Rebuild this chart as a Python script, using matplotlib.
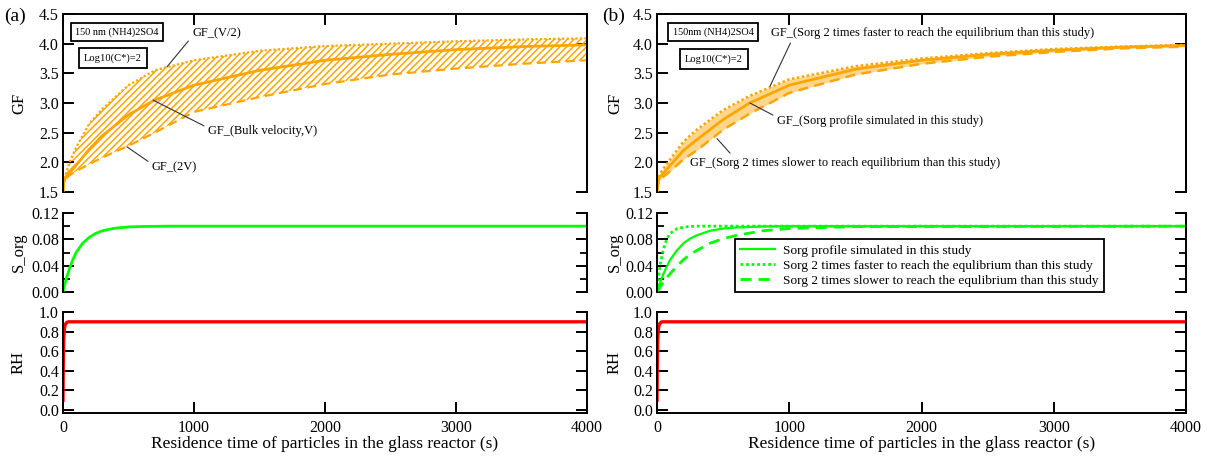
import matplotlib
matplotlib.use("Agg")
import matplotlib.pyplot as plt

plt.rcParams['font.family'] = ['Liberation Serif', 'DejaVu Serif']
plt.rcParams['hatch.linewidth'] = 1.1
plt.rcParams['mathtext.default'] = 'regular'

# ---------------- data ----------------
t_gf = [0, 5, 20, 50, 100, 200, 300, 500, 700, 1000, 1500, 2000, 2500, 3000, 3500, 4000]
# panel (a)
gf_a_V = [1.50, 1.65, 1.75, 1.82, 1.95, 2.22, 2.45, 2.80, 3.05, 3.30, 3.55, 3.72, 3.82, 3.90, 3.95, 3.98]
gf_a_V2 = [1.50, 1.70, 1.80, 2.00, 2.25, 2.65, 2.90, 3.30, 3.55, 3.72, 3.88, 3.96, 4.00, 4.04, 4.07, 4.09]
gf_a_2V = [1.50, 1.62, 1.72, 1.78, 1.85, 1.97, 2.08, 2.28, 2.50, 2.85, 3.10, 3.32, 3.48, 3.58, 3.66, 3.72]
# panel (b)
gf_b_mid = [1.50, 1.65, 1.75, 1.82, 1.95, 2.20, 2.38, 2.72, 3.00, 3.30, 3.57, 3.72, 3.82, 3.89, 3.94, 3.97]
gf_b_fast = [1.50, 1.70, 1.80, 1.90, 2.05, 2.35, 2.55, 2.88, 3.12, 3.40, 3.62, 3.75, 3.84, 3.91, 3.95, 3.98]
gf_b_slow = [1.50, 1.60, 1.70, 1.76, 1.85, 2.05, 2.20, 2.55, 2.82, 3.17, 3.48, 3.66, 3.78, 3.86, 3.92, 3.95]

t_s = [0, 10, 25, 50, 75, 100, 150, 200, 250, 300, 400, 500, 600, 800, 1000, 1500, 4000]
sorg_a = [0, 0.009, 0.020, 0.036, 0.049, 0.060, 0.074, 0.083, 0.089, 0.093, 0.097, 0.0988, 0.0995, 0.1, 0.1, 0.1, 0.1]
sorg_b = [0, 0.0064, 0.0154, 0.028, 0.039, 0.049, 0.063, 0.074, 0.081, 0.086, 0.093, 0.0964, 0.098, 0.0995, 0.1, 0.1, 0.1]
sorg_b_fast = [0, 0.020, 0.043, 0.066, 0.081, 0.089, 0.096, 0.0985, 0.0995, 0.1, 0.1, 0.1, 0.1, 0.1, 0.1, 0.1, 0.1]
sorg_b_slow = [0, 0.0033, 0.008, 0.0154, 0.022, 0.028, 0.039, 0.049, 0.057, 0.063, 0.074, 0.081, 0.086, 0.093, 0.0964, 0.0993, 0.1]

t_rh = [0, 2, 5, 10, 15, 20, 30, 40, 4000]
rh = [0.10, 0.45, 0.70, 0.82, 0.86, 0.88, 0.895, 0.90, 0.90]

x_ticks = [0, 1000, 2000, 3000, 4000]
gf_ticks = [1.5, 2.0, 2.5, 3.0, 3.5, 4.0, 4.5]
s_ticks = [0.00, 0.04, 0.08, 0.12]
s_minor = [0.02, 0.06, 0.10]
rh_ticks = [0.0, 0.2, 0.4, 0.6, 0.8, 1.0]

legend_labels = ["Sorg profile simulated in this study",
                 "Sorg 2 times faster to reach the equlibrium than this study",
                 "Sorg 2 times slower to reach the equlibrium than this study"]

ORANGE = '#FFA500'
GREEN = '#00FF00'
RED = '#FF0000'

W, H = 1209, 467
fig = plt.figure(figsize=(W / 100, H / 100), dpi=100)


def fx(px):
    return px / W


def fy(py):
    return 1 - py / H


def make_axes(x0, x1, label_right_px):
    ax_gf = fig.add_axes([fx(x0), fy(192), fx(x1 - x0), (192 - 14) / H])
    ax_s = fig.add_axes([fx(x0), fy(292), fx(x1 - x0), (292 - 213) / H])
    ax_rh = fig.add_axes([fx(x0), fy(413), fx(x1 - x0), (413 - 312) / H])
    for ax in (ax_gf, ax_s, ax_rh):
        ax.set_xlim(0, 4000)
        for sp in ax.spines.values():
            sp.set_linewidth(1.4)
        ax.tick_params(axis='both', direction='in', width=1.4, length=8,
                       labelsize=11.5, pad=3)
        ax.tick_params(axis='y', which='minor', direction='in', width=1.3, length=5)
        ax.set_xticks(x_ticks)
    # GF
    ax_gf.set_ylim(1.5, 4.5)
    ax_gf.set_yticks(gf_ticks)
    ax_gf.set_yticklabels([f"{v:.1f}" for v in gf_ticks])
    ax_gf.spines['bottom'].set_visible(False)
    ax_gf.tick_params(axis='x', top=True, bottom=False, labelbottom=False, labeltop=False)
    sec = ax_gf.secondary_yaxis('right')
    sec.set_yticks([1.5, 4.0, 4.5])
    sec.tick_params(direction='in', length=8, width=1.4, labelright=False)
    sec.spines['right'].set_linewidth(1.4)
    # S_org
    ax_s.set_ylim(0, 0.12)
    ax_s.set_yticks(s_ticks)
    ax_s.set_yticks(s_minor, minor=True)
    ax_s.set_yticklabels([f"{v:.2f}" for v in s_ticks])
    ax_s.spines['top'].set_visible(False)
    ax_s.spines['bottom'].set_visible(False)
    ax_s.tick_params(axis='x', top=False, bottom=False, labelbottom=False)
    ax_s.tick_params(axis='y', which='both', right=True)
    # RH
    ax_rh.set_ylim(-0.03, 1.0)
    ax_rh.set_yticks(rh_ticks)
    ax_rh.set_yticklabels([f"{v:.1f}" for v in rh_ticks])
    ax_rh.spines['top'].set_visible(False)
    ax_rh.tick_params(axis='y', right=True)
    ax_rh.tick_params(axis='x', top=False, pad=5)
    ax_rh.set_xticklabels([str(v) for v in x_ticks])
    ax_rh.set_xlabel("Residence time of particles in the glass reactor (s)",
                     fontsize=12.5, labelpad=0)
    ax_gf.set_ylabel("GF", fontsize=12)
    ax_s.set_ylabel("S_org", fontsize=12)
    ax_rh.set_ylabel("RH", fontsize=12)
    lx = (label_right_px - x0) / (x1 - x0)
    for ax in (ax_gf, ax_s, ax_rh):
        ax.yaxis.set_label_coords(lx, 0.5)
    return ax_gf, ax_s, ax_rh


a_gf, a_s, a_rh = make_axes(63, 587, 27)
b_gf, b_s, b_rh = make_axes(657, 1186, 623)

# ---- panel (a) GF ----
a_gf.fill_between(t_gf, gf_a_2V, gf_a_V2, facecolor='none', edgecolor=ORANGE,
                  hatch='/////', linewidth=0)
a_gf.plot(t_gf, gf_a_V2, color=ORANGE, lw=1.6, ls=(0, (1, 1)))
a_gf.plot(t_gf, gf_a_2V, color=ORANGE, lw=1.6, ls=(0, (4, 2.5)))
a_gf.plot(t_gf, gf_a_V, color=ORANGE, lw=2.0)

# ---- panel (b) GF ----
b_gf.fill_between(t_gf, gf_b_slow, gf_b_fast, color=ORANGE, alpha=0.45, linewidth=0)
b_gf.plot(t_gf, gf_b_fast, color=ORANGE, lw=1.8, ls=(0, (1, 1)))
b_gf.plot(t_gf, gf_b_slow, color=ORANGE, lw=1.8, ls=(0, (4, 2.5)))
b_gf.plot(t_gf, gf_b_mid, color=ORANGE, lw=2.0)

# ---- S_org ----
a_s.plot(t_s, sorg_a, color=GREEN, lw=2.0)
b_s.plot(t_s, sorg_b, color=GREEN, lw=1.6, label=legend_labels[0])
b_s.plot(t_s, sorg_b_fast, color=GREEN, lw=2.0, ls=(0, (1, 1)), label=legend_labels[1])
b_s.plot(t_s, sorg_b_slow, color=GREEN, lw=2.0, ls=(0, (4, 2.5)), label=legend_labels[2])
leg = b_s.legend(loc='lower left', bbox_to_anchor=((735 - 657) / 529, 0.0),
                 borderaxespad=0, fontsize=9.6, frameon=True, fancybox=False,
                 edgecolor='black', framealpha=1, labelspacing=0.2,
                 handlelength=2.6, handletextpad=0.6, borderpad=0.4)
leg.get_frame().set_linewidth(1.3)

# ---- RH ----
a_rh.plot(t_rh, rh, color=RED, lw=2.4)
b_rh.plot(t_rh, rh, color=RED, lw=2.4)

# ---- text boxes ----
box = dict(boxstyle='square,pad=0.45', facecolor='white', edgecolor='black', linewidth=1.3)
fig.text(fx(117), fy(32), "150 nm (NH4)2SO4", fontsize=7.4, ha='center', va='center', bbox=box)
fig.text(fx(113), fy(58), "Log10(C*)=2", fontsize=7.6, ha='center', va='center', bbox=box)
fig.text(fx(713), fy(32), "150nm (NH4)2SO4", fontsize=7.4, ha='center', va='center', bbox=box)
fig.text(fx(714), fy(59), "Log10(C*)=2", fontsize=7.6, ha='center', va='center', bbox=box)

fig.text(fx(15), fy(16), "(a)", fontsize=14, ha='center', va='center')
fig.text(fx(614), fy(16), "(b)", fontsize=14, ha='center', va='center')


# ---- annotations ----
def arr(rel):
    return dict(arrowstyle='-', color='#333333', lw=0.8, shrinkA=1, shrinkB=0, relpos=rel)


fs = 9
a_gf.annotate("GF_(V/2)", xy=(794, 3.61), xytext=(985, 4.18), fontsize=fs,
              ha='left', va='center', arrowprops=arr((0.0, 0.2)))
a_gf.annotate("GF_(Bulk velocity,V)", xy=(687, 3.05), xytext=(1107, 2.53), fontsize=fs,
              ha='left', va='center', arrowprops=arr((0.0, 0.75)))
a_gf.annotate("GF_(2V)", xy=(489, 2.26), xytext=(679, 1.92), fontsize=fs,
              ha='left', va='center', arrowprops=arr((0.0, 0.75)))
b_gf.annotate("GF_(Sorg 2 times faster to reach the equilibrium than this study)",
              xy=(854, 3.28), xytext=(862, 4.18), fontsize=fs,
              ha='left', va='center', arrowprops=arr((0.066, 0.0)))
b_gf.annotate("GF_(Sorg profile simulated in this study)",
              xy=(703, 3.0), xytext=(907, 2.70), fontsize=fs,
              ha='left', va='center', arrowprops=arr((0.0, 0.8)))
b_gf.annotate("GF_(Sorg 2 times slower to reach equilibrium than this study)",
              xy=(454, 2.40), xytext=(250, 1.99), fontsize=fs,
              ha='left', va='center', arrowprops=arr((0.14, 1.0)))

fig.savefig("out.png", dpi=100)
